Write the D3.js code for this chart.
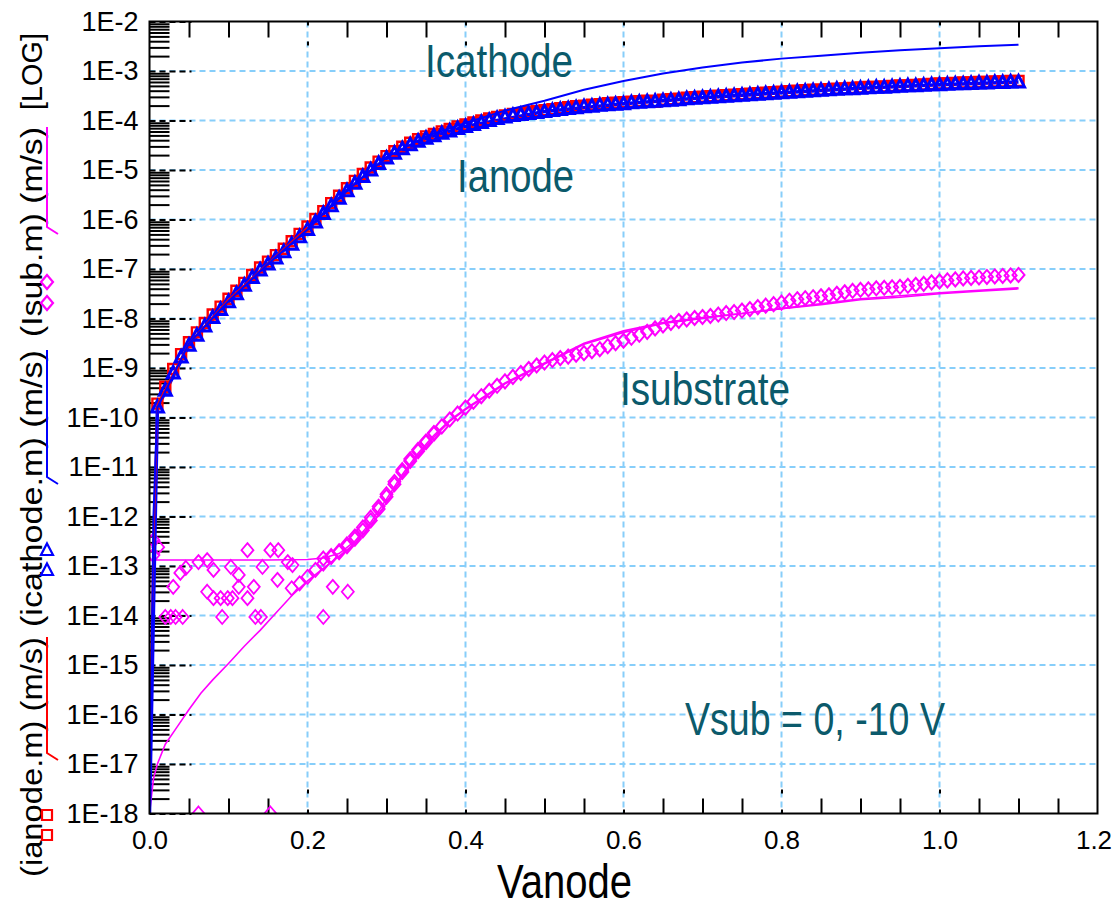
<!DOCTYPE html>
<html>
<head>
<meta charset="utf-8">
<script src="https://cdn.jsdelivr.net/npm/d3@7"></script>
<style>
  body { margin: 0; background: #fff; }
  text { font-family: "Liberation Sans", Arial, sans-serif; }
  .big { font-family: "Liberation Sans Narrow", "Arial Narrow", "Liberation Sans", Arial, sans-serif; }
</style>
</head>
<body>
<svg id="chart" width="1115" height="911"></svg>
<script>
// anode voltage sweep (V), 0.01 .. 1.10
const vSweep = [
  0.01,0.02,0.03,0.04,0.05,0.06,0.07,0.08,0.09,0.10,
  0.11,0.12,0.13,0.14,0.15,0.16,0.17,0.18,0.19,0.20,
  0.21,0.22,0.23,0.24,0.25,0.26,0.27,0.28,0.29,0.30,
  0.31,0.32,0.33,0.34,0.35,0.36,0.37,0.38,0.39,0.40,
  0.41,0.42,0.43,0.44,0.45,0.46,0.47,0.48,0.49,0.50,
  0.51,0.52,0.53,0.54,0.55,0.56,0.57,0.58,0.59,0.60,
  0.61,0.62,0.63,0.64,0.65,0.66,0.67,0.68,0.69,0.70,
  0.71,0.72,0.73,0.74,0.75,0.76,0.77,0.78,0.79,0.80,
  0.81,0.82,0.83,0.84,0.85,0.86,0.87,0.88,0.89,0.90,
  0.91,0.92,0.93,0.94,0.95,0.96,0.97,0.98,0.99,1.00,
  1.01,1.02,1.03,1.04,1.05,1.06,1.07,1.08,1.09,1.10
];

// measured currents, log10(A)
const icathodeMeas = [
  -9.79,-9.45,-9.10,-8.78,-8.54,-8.34,-8.15,-7.98,-7.82,-7.66,
  -7.50,-7.33,-7.17,-7.02,-6.90,-6.78,-6.65,-6.50,-6.35,-6.20,
  -6.05,-5.88,-5.72,-5.57,-5.42,-5.27,-5.13,-5.00,-4.87,-4.76,
  -4.66,-4.57,-4.49,-4.42,-4.36,-4.31,-4.26,-4.21,-4.16,-4.12,
  -4.08,-4.04,-4.00,-3.96,-3.93,-3.90,-3.88,-3.86,-3.84,-3.82,
  -3.80,-3.78,-3.76,-3.74,-3.72,-3.71,-3.69,-3.68,-3.67,-3.66,
  -3.64,-3.63,-3.62,-3.61,-3.60,-3.59,-3.58,-3.56,-3.55,-3.54,
  -3.53,-3.52,-3.51,-3.50,-3.49,-3.48,-3.47,-3.46,-3.45,-3.44,
  -3.43,-3.42,-3.41,-3.40,-3.39,-3.38,-3.37,-3.36,-3.36,-3.35,
  -3.34,-3.33,-3.33,-3.32,-3.31,-3.30,-3.30,-3.29,-3.28,-3.28,
  -3.27,-3.26,-3.26,-3.25,-3.24,-3.24,-3.23,-3.23,-3.22,-3.22
];
const ianodeMeas = [
  -9.72,-9.38,-9.02,-8.72,-8.48,-8.28,-8.09,-7.92,-7.76,-7.60,
  -7.44,-7.28,-7.12,-6.97,-6.85,-6.72,-6.59,-6.44,-6.29,-6.14,
  -5.99,-5.83,-5.67,-5.52,-5.37,-5.22,-5.08,-4.95,-4.83,-4.72,
  -4.62,-4.53,-4.45,-4.38,-4.32,-4.27,-4.22,-4.17,-4.12,-4.08,
  -4.04,-4.00,-3.96,-3.93,-3.90,-3.87,-3.85,-3.83,-3.81,-3.79,
  -3.77,-3.75,-3.73,-3.71,-3.70,-3.68,-3.67,-3.65,-3.64,-3.63,
  -3.62,-3.61,-3.60,-3.62,-3.58,-3.57,-3.56,-3.54,-3.53,-3.52,
  -3.51,-3.50,-3.49,-3.48,-3.47,-3.46,-3.45,-3.44,-3.43,-3.42,
  -3.41,-3.40,-3.39,-3.38,-3.38,-3.37,-3.36,-3.35,-3.34,-3.33,
  -3.32,-3.32,-3.31,-3.30,-3.29,-3.29,-3.28,-3.27,-3.26,-3.25,
  -3.25,-3.24,-3.23,-3.23,-3.22,-3.22,-3.21,-3.21,-3.20,-3.20
];
// substrate current, measured from 0.22 V upward (first set) and 0.18..0.36 V (second set)
const isubMeasA = [
  -12.85,-12.80,-12.72,-12.60,-12.45,-12.28,-12.08,-11.85,-11.60,
  -11.35,-11.10,-10.88,-10.68,-10.50,-10.33,-10.18,-10.04,-9.92,-9.80,
  -9.68,-9.57,-9.46,-9.36,-9.27,-9.18,-9.10,-9.02,-8.95,-8.89,
  -8.84,-8.80,-8.77,-8.73,-8.70,-8.66,-8.62,-8.56,-8.50,-8.45,
  -8.39,-8.33,-8.27,-8.20,-8.14,-8.09,-8.05,-8.02,-7.99,-7.97,
  -7.95,-7.92,-7.89,-7.87,-7.84,-7.81,-7.77,-7.74,-7.71,-7.68,
  -7.64,-7.61,-7.59,-7.57,-7.55,-7.53,-7.50,-7.47,-7.44,-7.42,
  -7.41,-7.39,-7.38,-7.37,-7.36,-7.34,-7.32,-7.30,-7.27,-7.25,
  -7.23,-7.21,-7.19,-7.18,-7.17,-7.16,-7.15,-7.14,-7.13,-7.12
];
const isubMeasB = [
  -13.45,-13.35,-13.22,-13.08,-12.95,-12.82,-12.70,-12.56,-12.40,-12.22,
  -12.02,-11.80,-11.55,-11.30,-11.06,-10.84,-10.65,-10.48,-10.31
];
// noisy low-bias substrate points [V, log10 I]
const isubNoise = [
  [0.005,-12.48],[0.005,-12.78],[0.011,-12.62],[0.020,-14.03],[0.027,-14.03],
  [0.030,-13.42],[0.033,-14.03],[0.039,-13.14],[0.042,-14.03],[0.046,-13.04],
  [0.062,-12.92],[0.073,-12.88],[0.073,-13.52],[0.081,-13.65],[0.081,-13.08],
  [0.090,-13.65],[0.092,-14.03],[0.099,-13.65],[0.103,-13.02],[0.105,-13.65],
  [0.113,-13.18],[0.113,-13.42],[0.124,-12.68],[0.124,-13.65],[0.132,-13.42],
  [0.134,-14.03],[0.141,-14.03],[0.143,-13.02],[0.153,-12.68],[0.162,-13.28],
  [0.163,-12.68],[0.175,-12.92],[0.181,-12.98],[0.220,-14.03],[0.232,-13.42],
  [0.251,-13.52],[0.062,-18.0],[0.153,-18.0]
];

// simulated curves [V, log10 I]
const icathodeSim = [
  [0,-18],[0.005,-12.0],[0.01,-9.8],[0.05,-8.5],[0.10,-7.65],[0.15,-6.9],[0.20,-6.2],
  [0.25,-5.42],[0.30,-4.74],[0.35,-4.32],[0.40,-4.05],[0.45,-3.8],[0.50,-3.6],
  [0.55,-3.38],[0.60,-3.2],[0.65,-3.05],[0.70,-2.93],[0.75,-2.83],[0.80,-2.75],
  [0.85,-2.69],[0.90,-2.63],[0.95,-2.58],[1.00,-2.54],[1.05,-2.5],[1.10,-2.47]
];
const ianodeSimBlue = [
  [0,-18],[0.01,-9.8],[0.05,-8.54],[0.10,-7.66],[0.15,-6.9],[0.20,-6.2],[0.25,-5.42],
  [0.30,-4.76],[0.35,-4.36],[0.40,-4.12],[0.50,-3.82],[0.60,-3.66],[0.70,-3.54],
  [0.80,-3.44],[0.90,-3.35],[1.00,-3.28],[1.10,-3.22]
];
const ianodeSimRed = [
  [0,-16.6],[0.005,-12.5],[0.01,-9.75],[0.05,-8.5],[0.10,-7.62],[0.20,-6.16]
];
const isubSimA = [
  [0,-12.88],[0.05,-12.88],[0.10,-12.88],[0.15,-12.88],[0.20,-12.87],[0.22,-12.84],
  [0.24,-12.75],[0.26,-12.5],[0.28,-12.12],[0.30,-11.65],[0.32,-11.15],[0.34,-10.72],
  [0.36,-10.36],[0.38,-10.06],[0.40,-9.82],[0.45,-9.3],[0.50,-8.9],[0.55,-8.5],
  [0.60,-8.25],[0.65,-8.08],[0.70,-7.98],[0.75,-7.9],[0.80,-7.8],[0.85,-7.72],
  [0.90,-7.62],[0.95,-7.57],[1.00,-7.5],[1.05,-7.45],[1.10,-7.4]
];
const isubSimB = [
  [0,-18],[0.005,-17.3],[0.01,-17.0],[0.02,-16.6],[0.035,-16.25],[0.05,-15.9],
  [0.065,-15.57],[0.08,-15.3],[0.10,-14.97],[0.12,-14.62],[0.14,-14.3],[0.16,-13.95],
  [0.18,-13.6],[0.20,-13.3],[0.22,-13.05],[0.24,-12.8],[0.26,-12.55],[0.28,-12.2],
  [0.30,-11.72],[0.32,-11.2],[0.34,-10.76],[0.36,-10.4],[0.38,-10.08],[0.40,-9.84],
  [0.45,-9.32],[0.50,-8.92],[0.55,-8.52],[0.60,-8.28],[0.65,-8.1],[0.70,-8.0],
  [0.80,-7.8],[0.90,-7.6],[1.00,-7.48],[1.10,-7.38]
];

// axis ticks
const yDecades = [-18,-17,-16,-15,-14,-13,-12,-11,-10,-9,-8,-7,-6,-5,-4,-3,-2];
const xMajor = [0, 0.2, 0.4, 0.6, 0.8, 1.0, 1.2];

const svg = d3.select('#chart');
const pL = 149.5, pR = 1097.5, pT = 21.5, pB = 813.5;
const x = d3.scaleLinear().domain([0, 1.2]).range([pL, pR]);
const y = d3.scaleLog().domain([1e-18, 1e-2]).range([pB, pT]);
const gridColor = '#87cefa';
const dash = '6,4';

// gridlines
const grid = svg.append('g');
grid.selectAll('line.gx').data(xMajor.slice(1, -1)).join('line')
  .attr('x1', d => x(d)).attr('x2', d => x(d)).attr('y1', pT).attr('y2', pB)
  .attr('stroke', gridColor).attr('stroke-width', 2).attr('stroke-dasharray', dash);
grid.selectAll('line.gy').data(yDecades.slice(1, -1)).join('line')
  .attr('x1', pL).attr('x2', pR).attr('y1', d => y(10 ** d)).attr('y2', d => y(10 ** d))
  .attr('stroke', gridColor).attr('stroke-width', 2).attr('stroke-dasharray', dash);

// log minor ticks on the left
const minors = [];
yDecades.slice(0, -1).forEach(e => { for (let k = 2; k <= 9; k++) minors.push(k * 10 ** e); });
svg.append('g')
  .attr('transform', `translate(${pL},0)`)
  .call(d3.axisLeft(y).tickValues(minors).tickSize(-20).tickFormat(''))
  .call(g => g.select('.domain').remove())
  .call(g => g.selectAll('line').attr('stroke', '#000').attr('stroke-width', 2));
// major ticks, black dashes over the gridlines
svg.append('g')
  .attr('transform', `translate(${pL},0)`)
  .call(d3.axisLeft(y).tickValues(yDecades.map(e => 10 ** e)).tickSize(-42).tickFormat(''))
  .call(g => g.select('.domain').remove())
  .call(g => g.selectAll('line').attr('stroke', '#000').attr('stroke-width', 2).attr('stroke-dasharray', dash));
// left labels
svg.append('g')
  .attr('transform', `translate(${pL},0)`)
  .call(d3.axisLeft(y).tickValues(yDecades.map(e => 10 ** e)).tickSize(0).tickPadding(11)
    .tickFormat(d => '1E' + Math.round(Math.log10(d))))
  .call(g => g.select('.domain').remove())
  .call(g => g.selectAll('text').attr('font-size', 27).attr('fill', '#000')
    .attr('font-family', '"Liberation Sans", Arial, sans-serif'));

// x ticks (top and bottom)
const xMinor = d3.range(0.05, 1.2, 0.05).filter(v => Math.abs(v / 0.2 - Math.round(v / 0.2)) > 1e-6);
svg.append('g')
  .attr('transform', `translate(0,${pT})`)
  .call(d3.axisTop(x).tickValues(xMinor).tickSize(-16).tickFormat(''))
  .call(g => g.select('.domain').remove())
  .call(g => g.selectAll('line').attr('stroke', '#000').attr('stroke-width', 2));
svg.append('g')
  .attr('transform', `translate(0,${pT})`)
  .call(d3.axisTop(x).tickValues(xMajor.slice(1, -1)).tickSize(-30).tickFormat(''))
  .call(g => g.select('.domain').remove())
  .call(g => g.selectAll('line').attr('stroke', '#000').attr('stroke-width', 2).attr('stroke-dasharray', '4,16'));
svg.append('g')
  .attr('transform', `translate(0,${pB})`)
  .call(d3.axisBottom(x).tickValues(xMinor).tickSize(-15).tickFormat(''))
  .call(g => g.select('.domain').remove())
  .call(g => g.selectAll('line').attr('stroke', '#000').attr('stroke-width', 2));
svg.append('g')
  .attr('transform', `translate(0,${pB})`)
  .call(d3.axisBottom(x).tickValues(xMajor.slice(1, -1)).tickSize(-30).tickFormat(''))
  .call(g => g.select('.domain').remove())
  .call(g => g.selectAll('line').attr('stroke', '#000').attr('stroke-width', 2).attr('stroke-dasharray', '4,16'));
svg.append('g')
  .attr('transform', `translate(0,${pB})`)
  .call(d3.axisBottom(x).tickValues(xMajor).tickSize(0).tickPadding(17).tickFormat(d3.format('.1f')))
  .call(g => g.select('.domain').remove())
  .call(g => g.selectAll('text').attr('font-size', 26).attr('fill', '#000')
    .attr('font-family', '"Liberation Sans", Arial, sans-serif')
    .attr('dx', d => d === 1.2 ? -4 : 0));

// plot data
svg.append('clipPath').attr('id', 'clip')
  .append('rect').attr('x', pL).attr('y', pT).attr('width', pR - pL).attr('height', pB - pT);
const plot = svg.append('g').attr('clip-path', 'url(#clip)');

const line = d3.line().x(d => x(d[0])).y(d => y(10 ** d[1]));
const triPath = 'M0,-6.5L6,5L-6,5Z';
const sqPath = 'M-5,-5H5V5H-5Z';
const diaPath = 'M0,-7L6,0L0,7L-6,0Z';

function markers(pts, path, color, sw) {
  plot.append('g').selectAll('path').data(pts).join('path')
    .attr('d', path)
    .attr('transform', d => `translate(${x(d[0])},${y(10 ** d[1])})`)
    .attr('fill', 'none').attr('stroke', color).attr('stroke-width', sw);
}

// substrate
plot.append('path').datum(isubSimB).attr('d', line).attr('fill', 'none').attr('stroke', '#ff00ff').attr('stroke-width', 1.6);
plot.append('path').datum(isubSimA).attr('d', line).attr('fill', 'none').attr('stroke', '#ff00ff').attr('stroke-width', 1.6);
markers(isubNoise, diaPath, '#ff00ff', 1.8);
markers(isubMeasB.map((v, i) => [vSweep[17 + i], v]), diaPath, '#ff00ff', 1.8);
markers(isubMeasA.map((v, i) => [vSweep[21 + i], v]), diaPath, '#ff00ff', 2);

// anode / cathode
plot.append('path').datum(ianodeSimBlue).attr('d', line).attr('fill', 'none').attr('stroke', '#0000ff').attr('stroke-width', 3.5);
markers(ianodeMeas.map((v, i) => [vSweep[i], v]), sqPath, '#ff0000', 2.4);
markers(icathodeMeas.map((v, i) => [vSweep[i], v]), triPath, '#0000ff', 3);
plot.append('path').datum(ianodeSimRed).attr('d', line).attr('fill', 'none').attr('stroke', '#ff0000').attr('stroke-width', 2);
plot.append('path').datum(icathodeSim).attr('d', line).attr('fill', 'none').attr('stroke', '#0000ff').attr('stroke-width', 2);

// frame
svg.append('rect').attr('x', pL).attr('y', pT).attr('width', pR - pL).attr('height', pB - pT)
  .attr('fill', 'none').attr('stroke', '#000').attr('stroke-width', 2);

// y title pieces with legend keys
const yTitle = [
  { t: '(ianode.m) (m/s)', y0: 877, y1: 637 },
  { t: '(icathode.m) (m/s)', y0: 627, y1: 350 },
  { t: '(Isub.m) (m/s)', y0: 337, y1: 127 },
  { t: '[LOG]', y0: 110, y1: 33 }
];
yTitle.forEach(p => {
  svg.append('text')
    .attr('transform', `translate(42,${p.y0}) rotate(-90)`)
    .attr('font-size', 29).attr('fill', '#000')
    .attr('textLength', p.y0 - p.y1).attr('lengthAdjust', 'spacingAndGlyphs')
    .text(p.t);
});
const keys = [
  { color: '#ff0000', y0: 637, y1: 753, path: sqPath, m: [815, 835] },
  { color: '#0000ff', y0: 350, y1: 477, path: triPath, m: [550, 570] },
  { color: '#ff00ff', y0: 127, y1: 227, path: diaPath, m: [282, 303] }
];
keys.forEach(k => {
  svg.append('path').attr('d', `M47,${k.y0}V${k.y1}L58,${k.y1 + 7}`)
    .attr('fill', 'none').attr('stroke', k.color).attr('stroke-width', 2);
  k.m.forEach(my => svg.append('path').attr('d', k.path).attr('transform', `translate(47,${my})`)
    .attr('fill', 'none').attr('stroke', k.color).attr('stroke-width', 2.2));
});

// annotations
const teal = '#0b5a6b';
const notes = [
  { t: 'Icathode', x: 425, y: 77, w: 148 },
  { t: 'Ianode', x: 457, y: 192, w: 117 },
  { t: 'Isubstrate', x: 620, y: 405, w: 170 },
  { t: 'Vsub = 0, -10 V', x: 685, y: 735, w: 260 }
];
notes.forEach(n => svg.append('text').attr('class', 'big')
  .attr('x', n.x).attr('y', n.y).attr('font-size', 46).attr('fill', teal)
  .attr('textLength', n.w).attr('lengthAdjust', 'spacingAndGlyphs').text(n.t));

svg.append('text').attr('class', 'big')
  .attr('x', 497).attr('y', 898).attr('font-size', 48).attr('fill', '#000')
  .attr('textLength', 135).attr('lengthAdjust', 'spacingAndGlyphs').text('Vanode');
</script>
</body>
</html>
